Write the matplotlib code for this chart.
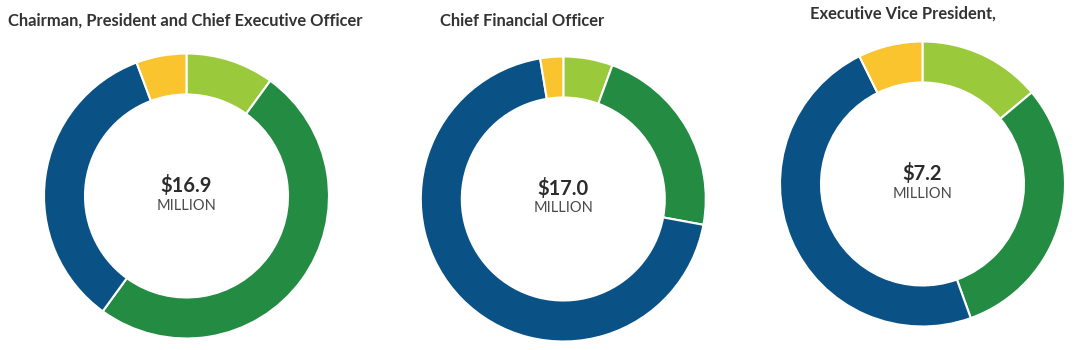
import matplotlib.pyplot as plt

# Pay mix per executive, share of total (%), clockwise from 12 o'clock
titles = ['Chairman, President and Chief Executive Officer',
          'Chief Financial Officer',
          'Executive Vice President,']
totals = ['$16.9', '$17.0', '$7.2']
light_green = [10.0, 5.6, 13.9]
green = [50.0, 22.3, 30.6]
blue = [34.3, 69.5, 48.2]
yellow = [5.7, 2.6, 7.3]

colors = ['#9bc93c', '#248b43', '#0a5286', '#fac42e']

# layout in pixels (y measured from the bottom of the figure)
centers = [(186.5, 154), (563.3, 151), (922.5, 166)]
title_pos = [(8, 329), (440, 329), (810, 336)]
radius = 142.5
ring = 41

W, H = 1080, 350
fig = plt.figure(figsize=(W / 100, H / 100), dpi=100)
ax = fig.add_axes([0, 0, 1, 1])

for i in range(3):
    vals = [light_green[i], green[i], blue[i], yellow[i]]
    cx, cy = centers[i]
    ax.pie(vals, colors=colors, startangle=90, counterclock=False,
           center=(cx, cy), radius=radius, frame=True,
           wedgeprops=dict(width=ring, edgecolor='white', linewidth=1.5))
    ax.text(cx, cy + 10.5, totals[i], ha='center', va='center',
            fontsize=14.5, fontweight='bold', color='#2b2b2b', family='Lato')
    ax.text(cx, cy - 9.5, 'MILLION', ha='center', va='center',
            fontsize=10.5, color='#4a4a4a', family='Lato')
    tx, ty = title_pos[i]
    ax.text(tx, ty, titles[i], ha='left', va='center', fontsize=11.9,
            fontweight='bold', color='#333333', family='Lato')

ax.set_xlim(0, W)
ax.set_ylim(0, H)
ax.set_aspect('equal')
ax.axis('off')

fig.savefig('out.png', dpi=100, facecolor='white')
